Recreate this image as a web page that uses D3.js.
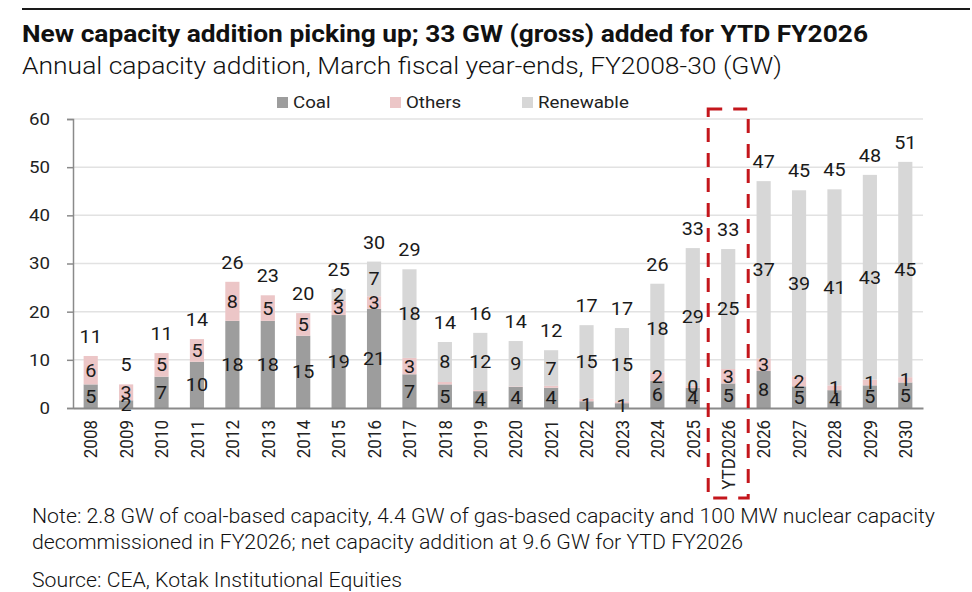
<!DOCTYPE html>
<html>
<head>
<meta charset="utf-8">
<script src="https://cdn.jsdelivr.net/npm/d3@7"></script>
<style>
  body { margin: 0; background: #fff; }
  svg { display: block; font-family: Roboto, "Noto Sans", sans-serif; }
</style>
</head>
<body>
<div id="chart"></div>
<script>
const years = ["2008","2009","2010","2011","2012","2013","2014","2015","2016","2017","2018","2019",
  "2020","2021","2022","2023","2024","2025","YTD2026","2026","2027","2028","2029","2030"];
const coal      = [4.9,1.6,6.5,9.6,18.1,18.1,15.0,19.3,20.6,7.0,4.9,3.5,4.4,4.2,1.4,1.0,5.6,4.2,5.1,7.7,4.5,3.7,4.7,5.3];
const others    = [5.9,3.3,4.9,4.7,8.1,5.3,4.7,3.0,2.6,3.4,0.5,0.2,0.1,0.4,0.5,0.4,1.8,0.4,3.0,2.6,2.1,1.0,1.2,1.1];
const renewable = [0,0,0,0,0,0,0,2.4,7.2,18.4,8.3,11.9,9.4,7.4,15.3,15.2,18.4,28.6,24.9,36.8,38.6,40.7,42.5,44.7];
const seriesNames = ["Coal", "Others", "Renewable"];
const seriesColors = ["#9d9d9d", "#ecc6c7", "#d7d7d7"];
const yTicks = [0, 10, 20, 30, 40, 50, 60];
const extraLabels = [["2025", "Others"]]; // small segments that still get a label
const highlightYear = "YTD2026";

const canvasWidth = 972;
const canvasHeight = 592;
const margin = { top: 119, right: 49, bottom: 184, left: 73 };
const width = canvasWidth - margin.left - margin.right;
const height = canvasHeight - margin.top - margin.bottom;
const stretch = 1.1; // the source font runs a little wide

const svg = d3.select("#chart").append("svg")
    .attr("width", canvasWidth)
    .attr("height", canvasHeight);

// place a text at x,y and widen it horizontally
const wide = (sel, x, y) => sel
    .attr("transform", (d, i) => {
        const px = typeof x === "function" ? x(d, i) : x;
        const py = typeof y === "function" ? y(d, i) : y;
        return `translate(${px},${py}) scale(${stretch},1)`;
    });

// header
svg.append("line")
    .attr("x1", 22).attr("x2", 970).attr("y1", 9).attr("y2", 9)
    .attr("stroke", "#1a1a1a").attr("stroke-width", 2);

svg.append("text")
    .attr("x", 22).attr("y", 42)
    .attr("font-size", 24).attr("font-weight", 700).attr("fill", "#111")
    .attr("textLength", 846).attr("lengthAdjust", "spacingAndGlyphs")
    .text("New capacity addition picking up; 33 GW (gross) added for YTD FY2026");

svg.append("text")
    .attr("x", 22).attr("y", 74)
    .attr("font-size", 23.5).attr("font-weight", 300).attr("fill", "#111")
    .attr("textLength", 760).attr("lengthAdjust", "spacingAndGlyphs")
    .text("Annual capacity addition, March fiscal year-ends, FY2008-30 (GW)");

const data = years.map((y, i) => ({ year: y, Coal: coal[i], Others: others[i], Renewable: renewable[i] }));
const stacked = d3.stack().keys(seriesNames)(data);

const xScale = d3.scaleBand().domain(years).range([0, width]).paddingInner(0.6).paddingOuter(0.3);
const yScale = d3.scaleLinear().domain([0, 60]).range([height, 0]);

const g = svg.append("g").attr("transform", `translate(${margin.left},${margin.top})`);

// gridlines
g.append("g")
    .selectAll("line")
    .data(yTicks.filter(d => d > 0))
    .enter()
    .append("line")
    .attr("x1", 0).attr("x2", width)
    .attr("y1", d => yScale(d)).attr("y2", d => yScale(d))
    .attr("stroke", "#e2e2e2").attr("stroke-width", 1.5);

// y axis
const yAxis = g.append("g")
    .call(d3.axisLeft(yScale).tickValues(yTicks).tickSize(6).tickPadding(16));
yAxis.select(".domain").attr("stroke", "#8a8a8a").attr("stroke-width", 1.5);
yAxis.selectAll(".tick line").attr("stroke", "#8a8a8a").attr("stroke-width", 1.5);
yAxis.selectAll(".tick text")
    .attr("font-size", 17).attr("fill", "#222").attr("font-family", "Roboto")
    .attr("x", null)
    .attr("transform", `translate(-23,0) scale(${stretch},1)`);

// bars
const layer = g.selectAll(".layer")
    .data(stacked)
    .enter()
    .append("g")
    .attr("class", "layer")
    .attr("fill", (d, i) => seriesColors[i]);

layer.selectAll("rect")
    .data(d => d)
    .enter()
    .append("rect")
    .attr("x", d => xScale(d.data.year))
    .attr("width", xScale.bandwidth())
    .attr("y", d => yScale(d[1]))
    .attr("height", d => yScale(d[0]) - yScale(d[1]));

// x axis
const xAxis = g.append("g")
    .attr("transform", `translate(0,${height})`)
    .call(d3.axisBottom(xScale).tickSize(0).tickPadding(0));
xAxis.select(".domain").attr("stroke", "#8a8a8a").attr("stroke-width", 2);
xAxis.selectAll(".tick text")
    .attr("font-size", 17).attr("fill", "#222").attr("font-family", "Roboto")
    .attr("text-anchor", "end")
    .attr("transform", `scale(${stretch},1) rotate(-90)`)
    .attr("x", -12).attr("y", 0).attr("dy", "0.36em");

// segment labels
const showLabel = (key, d) => d[1] - d[0] >= 0.95 ||
    extraLabels.some(e => e[0] === d.data.year && e[1] === key);

stacked.forEach(s => {
    g.append("g")
        .selectAll("text")
        .data(s.filter(d => showLabel(s.key, d)))
        .enter()
        .append("text")
        .call(wide, d => xScale(d.data.year) + xScale.bandwidth() / 2, d => yScale((d[0] + d[1]) / 2))
        .attr("dy", "0.36em")
        .attr("text-anchor", "middle")
        .attr("font-size", 18).attr("fill", "#1a1a1a")
        .text(d => Math.round(d[1] - d[0]));
});

// totals
g.append("g")
    .selectAll("text")
    .data(data)
    .enter()
    .append("text")
    .call(wide, d => xScale(d.year) + xScale.bandwidth() / 2,
        d => yScale(d.Coal + d.Others + d.Renewable) - 13)
    .attr("text-anchor", "middle")
    .attr("font-size", 18).attr("fill", "#1a1a1a")
    .text(d => Math.round(d.Coal + d.Others + d.Renewable));

// highlight box round YTD column
const hx = xScale(highlightYear) + xScale.bandwidth() / 2;
g.append("rect")
    .attr("x", hx - 20).attr("width", 40)
    .attr("y", -10).attr("height", 389)
    .attr("fill", "none")
    .attr("stroke", "#c4161c").attr("stroke-width", 3)
    .attr("stroke-dasharray", "14 11");

// legend
const legendX = [277, 390, 522];
const legend = svg.append("g")
    .selectAll("g")
    .data(seriesNames)
    .enter()
    .append("g")
    .attr("transform", (d, i) => `translate(${legendX[i]},97)`);

legend.append("rect")
    .attr("width", 11).attr("height", 11)
    .attr("fill", (d, i) => seriesColors[i]);

legend.append("text")
    .call(wide, 16, 11)
    .attr("font-size", 17).attr("fill", "#222")
    .text(d => d);

// notes
const notes = [
    ["Note: 2.8 GW of coal-based capacity, 4.4 GW of gas-based capacity and 100 MW nuclear capacity", 523, 903],
    ["decommissioned in FY2026; net capacity addition at 9.6 GW for YTD FY2026", 549, 711],
    ["Source: CEA, Kotak Institutional Equities", 587, 370]
];
svg.append("g")
    .selectAll("text")
    .data(notes)
    .enter()
    .append("text")
    .attr("x", 32).attr("y", d => d[1])
    .attr("font-size", 19.5).attr("font-weight", 300).attr("fill", "#111")
    .attr("textLength", d => d[2]).attr("lengthAdjust", "spacingAndGlyphs")
    .text(d => d[0]);
</script>
</body>
</html>
